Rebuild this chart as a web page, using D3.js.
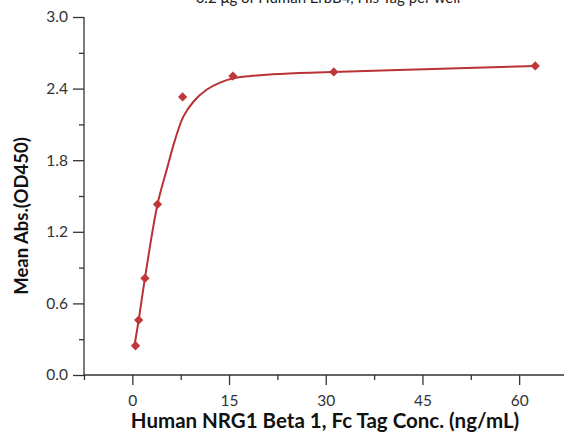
<!DOCTYPE html>
<html><head><meta charset="utf-8">
<script src="https://cdn.jsdelivr.net/npm/d3@7"></script>
<style>body{margin:0;background:#fff}svg{display:block}</style>
</head><body>
<svg id="c" width="564" height="442"></svg>
<script>
const title = "0.2 μg of Human ErbB4, His Tag per well";
const xTitle = "Human NRG1 Beta 1, Fc Tag Conc. (ng/mL)";
const yTitle = "Mean Abs.(OD450)";
const concentrations = [0.49, 0.98, 1.95, 3.9, 7.8, 15.6, 31.25, 62.5];
const absorbance = [0.245, 0.46, 0.81, 1.43, 2.33, 2.505, 2.54, 2.59];
const curveX = [0.37, 0.98, 1.95, 3.88, 5.33, 6.62, 7.91, 9.47, 11.5, 13.6, 15.7, 18.3, 20.8, 25.9, 31.1, 46.7, 62.5];
const curveY = [0.26, 0.46, 0.81, 1.425, 1.72, 1.97, 2.165, 2.29, 2.39, 2.45, 2.486, 2.505, 2.516, 2.53, 2.54, 2.565, 2.59];
const xTicks = [0, 15, 30, 45, 60];
const yTicks = [0.0, 0.6, 1.2, 1.8, 2.4, 3.0];

const svg = d3.select("#c");
const font = "Lato, 'Open Sans', sans-serif";
const x = d3.scaleLinear().domain([-7.5, 67.5]).range([84, 567.5]);
const y = d3.scaleLinear().domain([0, 3]).range([375, 17]);
const red = "#c0373a";

// title (cut off at top, as in the reference)
svg.append("text").attr("x", 328).attr("y", 3).attr("text-anchor", "middle")
  .attr("font-family", font).attr("font-size", 15).attr("fill", "#222").text(title);

// y axis
const yAxis = d3.axisLeft(y).tickValues(yTicks).tickFormat(d3.format(".1f")).tickSize(11).tickPadding(5);
const gy = svg.append("g").attr("transform", "translate(84,0)").call(yAxis);
gy.select(".domain").attr("d", "M0,17V375");
gy.selectAll(".tick text").attr("font-family", font).attr("font-size", 15.5).attr("fill", "#333");
const yMinor = d3.axisLeft(y).tickValues(d3.range(0.3, 3.0, 0.6)).tickSize(5).tickFormat("");
const gym = svg.append("g").attr("transform", "translate(84,0)").call(yMinor);
gym.select(".domain").remove();

// x axis
const xAxis = d3.axisBottom(x).tickValues(xTicks).tickSize(10).tickPadding(10);
const gx = svg.append("g").attr("transform", "translate(0,375)").call(xAxis);
gx.select(".domain").attr("d", "M84,0H564");
gx.selectAll(".tick text").attr("font-family", font).attr("font-size", 15.5).attr("fill", "#333");
const xMinor = d3.axisBottom(x).tickValues([-7.5, 7.5, 22.5, 37.5, 52.5]).tickSize(5).tickFormat("");
const gxm = svg.append("g").attr("transform", "translate(0,375)").call(xMinor);
gxm.select(".domain").remove();

svg.selectAll(".domain, .tick line").attr("stroke", "#333").attr("stroke-width", 1.3);

// axis titles
svg.append("text").attr("x", 325).attr("y", 428).attr("text-anchor", "middle")
  .attr("font-family", font).attr("font-weight", "bold").attr("font-size", 20.5).attr("fill", "#111").text(xTitle);
svg.append("text").attr("transform", "translate(28,216) rotate(-90)").attr("text-anchor", "middle")
  .attr("font-family", font).attr("font-weight", "bold").attr("font-size", 18.5).attr("fill", "#111").text(yTitle);

// fitted curve
const line = d3.line().x(d => x(d[0])).y(d => y(d[1])).curve(d3.curveCatmullRom.alpha(0.5));
svg.append("path").datum(d3.zip(curveX, curveY)).attr("d", line)
  .attr("fill", "none").attr("stroke", "#b83236").attr("stroke-width", 2);

// points
const sym = d3.symbol().type(d3.symbolDiamond2).size(55);
svg.selectAll(".pt").data(d3.zip(concentrations, absorbance)).join("path")
  .attr("class", "pt").attr("d", sym)
  .attr("transform", d => `translate(${x(d[0])},${y(d[1])})`).attr("fill", red);
</script>
</body></html>
